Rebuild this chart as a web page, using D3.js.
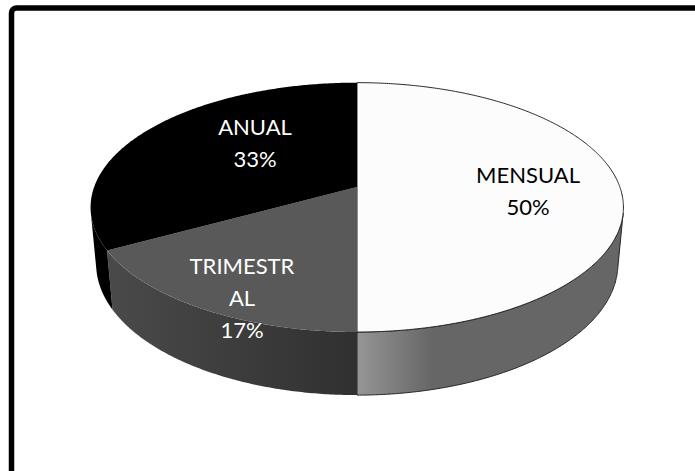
<!DOCTYPE html>
<html>
<head>
<meta charset="utf-8">
<script src="https://cdn.jsdelivr.net/npm/d3@7"></script>
<style>
  body { margin: 0; background: #fff; }
  text { font-family: Lato, "Open Sans", sans-serif; }
</style>
</head>
<body>
<svg id="chart" width="695" height="471"></svg>
<script>
// Data
const categories = ["MENSUAL", "TRIMESTRAL", "ANUAL"];
const values = [50, 17, 33];
// Excel wrapped the middle label this way
const labelLines = [["MENSUAL"], ["TRIMESTR", "AL"], ["ANUAL"]];

// Styles
const topColors = ["#fcfcfc", "#595959", "#000000"];
const wallStops = [["#969696", "#666666"], ["#4a4a4a", "#303030"], ["#000000", "#000000"]];
const textColors = ["#000", "#fff", "#fff"];

// Layout: centre of the top face and a small perspective camera
const cx = 357, cy = 187;
const cam = { f: 1430, dist: 5.44, tilt: 27.5 * Math.PI / 180, depth: 0.245 };
// label anchor (x centre, first baseline) relative to the pie centre
const labelOffsets = [[171, -4], [-115, 87], [-102, -52]];
const lineHeight = 32;

const svg = d3.select("#chart");

// frame, cut off at the right and bottom like the source
svg.append("rect")
    .attr("x", 11.5).attr("y", 8)
    .attr("width", 700).attr("height", 480)
    .attr("rx", 5)
    .attr("fill", "none")
    .attr("stroke", "#000")
    .attr("stroke-width", 5.5);

// project a point of the pie (angle clockwise from 12 o'clock, radius, height)
function project(theta, r, h) {
    const x = r * Math.sin(theta);
    const z = -r * Math.cos(theta);
    const s = Math.sin(cam.tilt), c = Math.cos(cam.tilt);
    const yc = h * c - z * s;
    const zc = h * s + z * c;
    const k = cam.f / (cam.dist - zc);
    return [cx + x * k, cy - yc * k];
}

function arcPoints(a0, a1, h) {
    const n = Math.max(2, Math.ceil(Math.abs(a1 - a0) / (Math.PI / 360)));
    return d3.range(n + 1).map(i => project(a0 + (a1 - a0) * i / n, 1, h));
}

const pie = d3.pie().sort(null).value(d => d)(values);
const total = d3.sum(values);
const pct = d3.format(".0%");
const line = d3.line();

// outer wall is visible where its normal faces the camera
const vis0 = Math.acos(-1 / (cam.dist * Math.cos(cam.tilt)));
const vis1 = 2 * Math.PI - vis0;

const defs = svg.append("defs");

const walls = svg.append("g");
pie.forEach((d, i) => {
    const lo = Math.max(d.startAngle, vis0);
    const hi = Math.min(d.endAngle, vis1);
    if (hi <= lo) return;

    const topArc = arcPoints(lo, hi, 0);
    const botArc = arcPoints(hi, lo, -cam.depth);
    const pts = topArc.concat(botArc);

    // shading runs from the front centre outwards
    const xs = pts.map(p => p[0]);
    const front = project(Math.PI, 1, 0)[0];
    const far = i === 0 ? front + 75 : d3.min(xs);
    const grad = defs.append("linearGradient")
        .attr("id", "wall" + i)
        .attr("gradientUnits", "userSpaceOnUse")
        .attr("x1", i === 0 ? front : far).attr("y1", 0)
        .attr("x2", i === 0 ? far : front).attr("y2", 0);
    grad.append("stop").attr("offset", 0).attr("stop-color", wallStops[i][0]);
    grad.append("stop").attr("offset", 1).attr("stop-color", wallStops[i][1]);

    walls.append("path")
        .attr("d", line(pts) + "Z")
        .attr("fill", `url(#wall${i})`)
        .attr("stroke", i === 0 ? "#262626" : "none")
        .attr("stroke-width", 1)
        .attr("stroke-linejoin", "round");
});

const tops = svg.append("g");
pie.forEach((d, i) => {
    const pts = [project(0, 0, 0)].concat(arcPoints(d.startAngle, d.endAngle, 0));
    tops.append("path")
        .attr("d", line(pts) + "Z")
        .attr("fill", topColors[i])
        .attr("stroke", i === 0 ? "#262626" : "none")
        .attr("stroke-width", 1)
        .attr("stroke-linejoin", "round");
});

// data labels: category (wrapped) and percentage
const labels = svg.append("g");
pie.forEach((d, i) => {
    const lines = labelLines[i].concat([pct(d.value / total)]);
    const t = labels.append("text")
        .attr("text-anchor", "middle")
        .attr("font-size", 22)
        .attr("fill", textColors[i])
        .attr("aria-label", categories[i]);
    lines.forEach((s, j) => {
        t.append("tspan")
            .attr("x", cx + labelOffsets[i][0])
            .attr("y", cy + labelOffsets[i][1] + j * lineHeight)
            .text(s);
    });
});
</script>
</body>
</html>
